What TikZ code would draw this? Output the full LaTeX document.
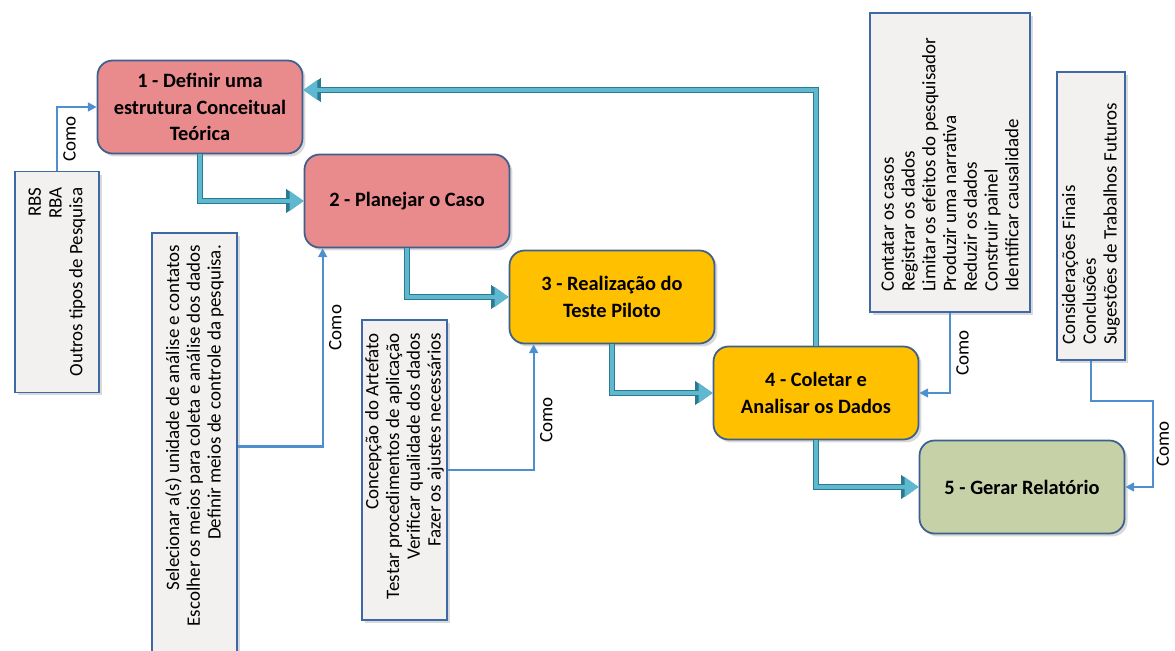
\documentclass[tikz,border=0pt]{standalone}
\usepackage{fontspec}
\setmainfont{Carlito}
\usepackage{graphicx}
\usetikzlibrary{arrows.meta,shadows}
\definecolor{stepred}{HTML}{E98A8D}
\definecolor{steporange}{HTML}{FFC000}
\definecolor{stepgreen}{HTML}{C7D1A8}
\definecolor{stepedge}{HTML}{3C5F8D}
\definecolor{notefill}{HTML}{F3F1EF}
\definecolor{noteedge}{HTML}{3E68A6}
\definecolor{linkblue}{HTML}{4E8FD0}
\definecolor{flowlight}{HTML}{5DB8D0}
\definecolor{flowdark}{HTML}{2C7A8F}
\begin{document}
\begin{tikzpicture}[x=0.02cm, y=-0.02cm,
  stepbox/.style={draw=stepedge, line width=1pt, rounded corners=0.3cm,
    minimum width=4.1cm, minimum height=1.86cm, align=center,
    font=\fontsize{11.6}{15.3}\selectfont\bfseries,
    drop shadow={opacity=0.3, shadow xshift=0.06cm, shadow yshift=-0.06cm}},
  notebox/.style={draw=noteedge, fill=notefill, line width=1pt, inner sep=0pt,
    font=\fontsize{10.8}{11.8}\selectfont,
    drop shadow={opacity=0.3, shadow xshift=0.06cm, shadow yshift=-0.06cm}},
  flow/.style={draw=flowlight, line width=1.8pt, -{Triangle[length=8pt,width=11pt]},
    preaction={draw=flowdark, line width=3.4pt, -{Triangle[length=10pt,width=13pt]}}},
  link/.style={draw=linkblue, line width=1.2pt, -{Triangle[length=5pt,width=5pt]}},
  como/.style={rotate=90, anchor=north, font=\fontsize{10.8}{11.8}\selectfont, inner sep=3pt}]
\useasboundingbox (0,0) rectangle (1175,651);

% etapas
\node[stepbox, fill=stepred] (b1) at (200,107) {1 - Definir uma\\estrutura Conceitual\\Teórica};
\node[stepbox, fill=stepred] (b2) at (407,201) {2 - Planejar o Caso};
\node[stepbox, fill=steporange] (b3) at (612,297) {3 - Realização do\\Teste Piloto};
\node[stepbox, fill=steporange] (b4) at (816,393) {4 - Coletar e\\Analisar os Dados};
\node[stepbox, fill=stepgreen] (b5) at (1022,487) {5 - Gerar Relatório};

% notas
\node[notebox, minimum width=1.68cm, minimum height=4.42cm] (n1) at (57,282)
  {\rotatebox{90}{\parbox{3.78cm}{\raggedleft RBS\\RBA\\Outros tipos de Pesquisa}}};
\node[notebox, minimum width=1.7cm, minimum height=8.54cm] (n2) at (194.5,446.5)
  {\rotatebox{90}{\parbox{8.06cm}{\raggedleft Selecionar a(s) unidade de análise e contatos\\Escolher os meios para coleta e análise dos dados\\Definir meios de controle da pesquisa.}}};
\node[notebox, minimum width=1.7cm, minimum height=6cm] (n3) at (404.5,470)
  {\rotatebox{90}{\parbox{5.48cm}{\raggedleft Concepção do Artefato\\Testar procedimentos de aplicação\\Verificar qualidade dos dados\\Fazer os ajustes necessários}}};
\node[notebox, minimum width=3.2cm, minimum height=5.98cm] (n4) at (950,162.5)
  {\rotatebox{90}{\parbox{5.18cm}{\raggedright Contatar os casos\\Registrar os dados\\Limitar os efeitos do pesquisador\\Produzir uma narrativa\\Reduzir os dados\\Construir painel\\Identificar causalidade}}};
\node[notebox, minimum width=1.36cm, minimum height=5.76cm] (n5) at (1091,216)
  {\rotatebox{90}{\parbox{5.16cm}{\raggedright Considerações Finais\\Conclusões\\Sugestões de Trabalhos Futuros}}};

% fluxo principal
\draw[flow] (b1.south) |- (b2.west);
\draw[flow] (b2.south) |- (b3.west);
\draw[flow] (b3.south) |- (b4.west);
\draw[flow] (b4.south) |- (b5.west);
\draw[flow] (b4.north) |- ([yshift=0.34cm]b1.east);

% ligacoes "Como"
\draw[link] (n1.north) -- node[como]{Como} (n1.north |- b1.west) -- (b1.west);
\draw[link] (n2.east) -| node[como, pos=0.8]{Como} ([xshift=0.38cm]b2.south west);
\draw[link] (n3.east) -| node[como, pos=0.7]{Como} ([xshift=0.5cm]b3.south west);
\draw[link] (n4.south) |- node[como, pos=0.25]{Como} (b4.east);
\draw[link] (n5.south) -- ++(0,40) -| node[como, pos=0.75, inner sep=1.2pt]{Como} ([xshift=0.56cm]b5.east) -- (b5.east);
\end{tikzpicture}
\end{document}
